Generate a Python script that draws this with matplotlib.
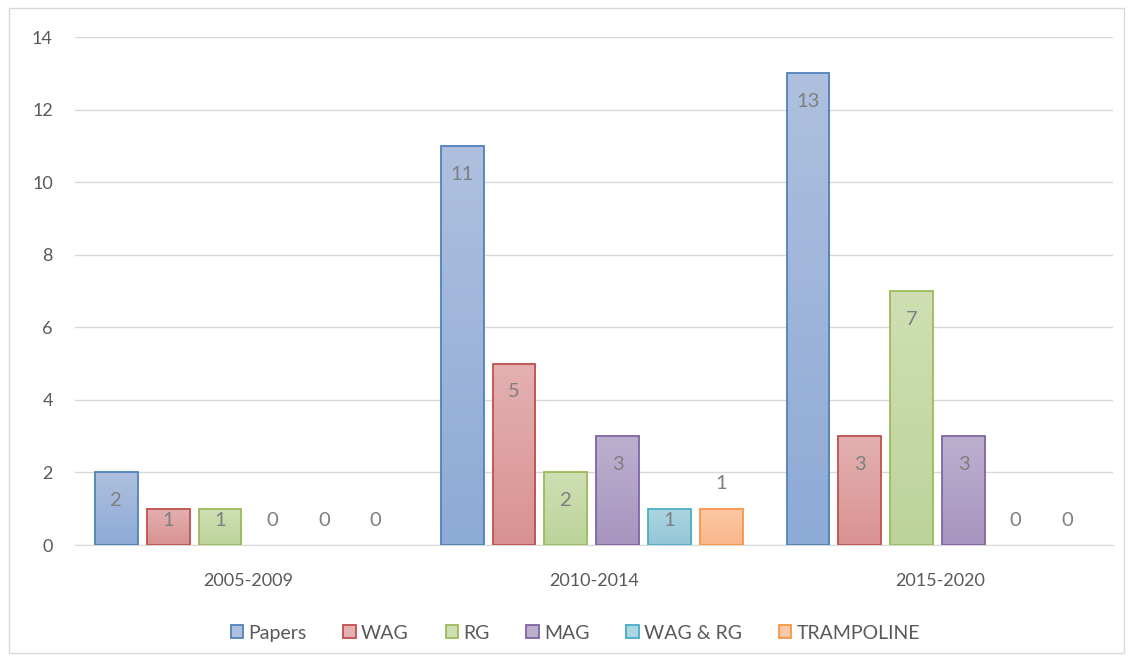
import numpy as np
import matplotlib.pyplot as plt
from matplotlib.patches import Rectangle
from matplotlib.colors import LinearSegmentedColormap

plt.rcParams['font.family'] = ['Lato', 'DejaVu Sans']

# Data
periods = ['2005-2009', '2010-2014', '2015-2020']
series = ['Papers', 'WAG', 'RG', 'MAG', 'WAG & RG', 'TRAMPOLINE']
papers = [2, 11, 13]
wag = [1, 5, 3]
rg = [1, 2, 7]
mag = [0, 3, 3]
wag_rg = [0, 1, 0]
trampoline = [0, 1, 0]
values = [papers, wag, rg, mag, wag_rg, trampoline]

edge_colors = ['#4f81bd', '#c0504d', '#9bbb59', '#8064a2', '#4bacc6', '#f79646']
top_colors = ['#aec0de', '#e4b0b0', '#cfdfb3', '#bcb0d0', '#acd6e2', '#fcc9a6']
bot_colors = ['#8eaad6', '#d99292', '#bcd39a', '#a795bf', '#94c6d6', '#fab68a']

fig = plt.figure(figsize=(11.32, 6.62), dpi=100)
ax = fig.add_axes([0.0663, 0.1767, 0.9167, 0.7674])

# outer chart border
fig.patches.append(Rectangle((0.008, 0.013), 0.985, 0.975, transform=fig.transFigure,
                             fill=False, edgecolor='#d9d9d9', linewidth=1))

x = np.arange(len(periods))
step = 0.15
width = 0.124
grad = np.linspace(0, 1, 100).reshape(-1, 1)

for i, (name, vals) in enumerate(zip(series, values)):
    offs = (i - 2.5) * step - 0.006
    bars = ax.bar(x + offs, vals, width, color=bot_colors[i], edgecolor=edge_colors[i],
                  linewidth=0, label=name, zorder=3)
    cmap = LinearSegmentedColormap.from_list('g%d' % i, [bot_colors[i], top_colors[i]])
    for b, v in zip(bars, vals):
        if v > 0:
            im = ax.imshow(grad, cmap=cmap, aspect='auto', origin='lower',
                           extent=[b.get_x(), b.get_x() + width, 0, v], zorder=3.5)
            im.set_clip_path(b)
            ax.add_patch(Rectangle((b.get_x(), 0), width, v, fill=False,
                                   edgecolor=edge_colors[i], linewidth=1.3, zorder=4))
    for j, v in enumerate(vals):
        if i == 5 and j == 1:
            ly = v + 0.7
        else:
            ly = max(v - 0.78, 0.68)
        ax.text(x[j] + offs, ly, str(v), ha='center', va='center', fontsize=14.5,
                color='#7f7f7f', zorder=5)

ax.set_xlim(-0.5, 2.5)
ax.set_ylim(0, 14)
ax.set_yticks(range(0, 15, 2))
ax.set_xticks(x)
ax.set_xticklabels(periods)
ax.tick_params(length=0, labelsize=13, colors='#595959')
ax.tick_params(axis='x', pad=20)
ax.tick_params(axis='y', pad=16)
ax.grid(axis='y', color='#d9d9d9', linewidth=1, zorder=0)
for s in ['top', 'right', 'left']:
    ax.spines[s].set_visible(False)
ax.spines['bottom'].set_color('#d9d9d9')
ax.spines['bottom'].set_zorder(2)

leg = ax.legend(loc='upper center', bbox_to_anchor=(0.482, -0.122), ncol=6, frameon=False,
                fontsize=14, handlelength=0.65, handleheight=0.65, handletextpad=0.25,
                columnspacing=1.9)
for t in leg.get_texts():
    t.set_color('#595959')
for h, tc, ec in zip(leg.legend_handles, top_colors, edge_colors):
    h.set_facecolor(tc)
    h.set_edgecolor(ec)
    h.set_linewidth(1.3)

plt.savefig('out.png', dpi=100)
